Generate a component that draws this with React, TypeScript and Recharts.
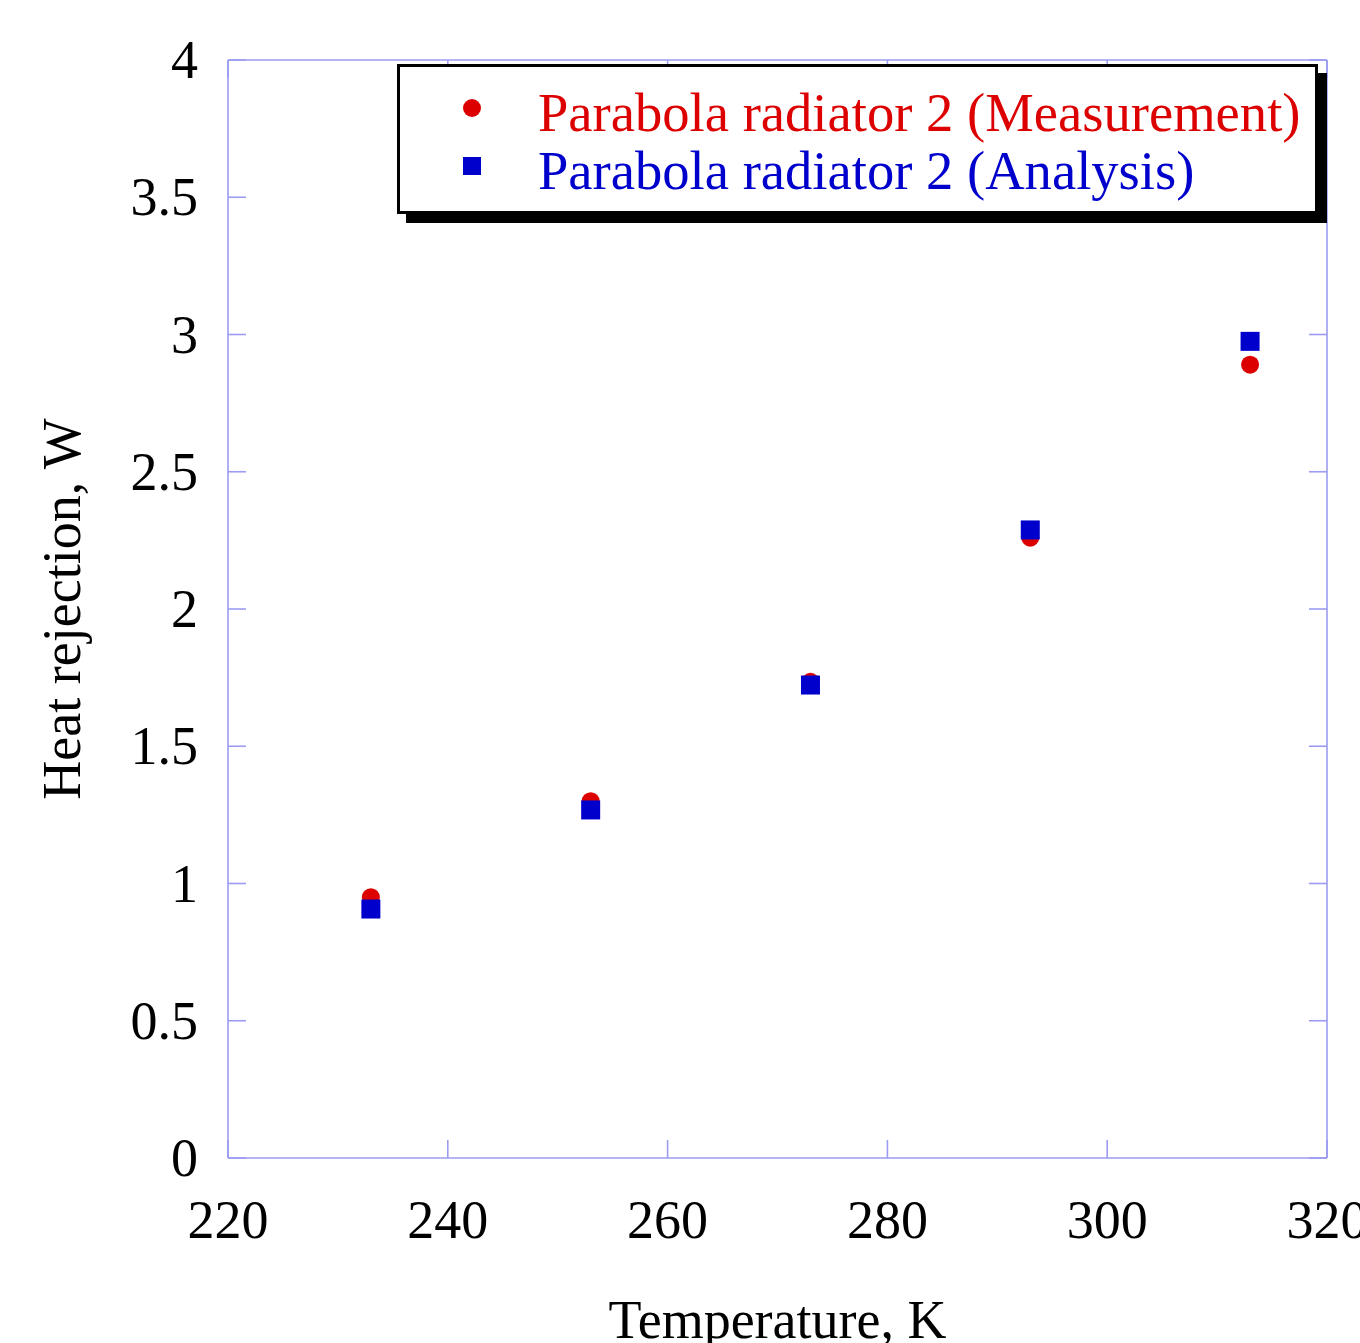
import {
  Legend,
  Scatter,
  ScatterChart,
  XAxis,
  YAxis,
} from "recharts";

const FONT = "'Liberation Serif', 'Times New Roman', serif";
const AXIS_COLOR = "#9c9cf2";
const RED = "#dd0000";
const BLUE = "#0000cc";

// temperatures, K
const temperatures = [233, 253, 273, 293, 313];
// heat rejection, W
const measured = [0.95, 1.3, 1.735, 2.26, 2.89];
const analysed = [0.907, 1.268, 1.723, 2.288, 2.975];

const seriesNames = ["Parabola radiator 2 (Measurement)", "Parabola radiator 2 (Analysis)"];
const xTicks = [220, 240, 260, 280, 300, 320];
const yTicks = [0, 0.5, 1, 1.5, 2, 2.5, 3, 3.5, 4];

const measuredData = temperatures.map((t, i) => ({ t, q: measured[i] }));
const analysedData = temperatures.map((t, i) => ({ t, q: analysed[i] }));

const Dot = (p: any) => <circle cx={p.cx} cy={p.cy} r={9} fill={RED} />;
const Box = (p: any) => (
  <rect x={p.cx - 9.5} y={p.cy - 9.5} width={19} height={19} fill={BLUE} />
);

const XTick = (p: any) => (
  <text x={p.x} y={p.y + 78} textAnchor="middle" fontSize={54} fontFamily={FONT} fill="#000">
    {p.payload.value}
  </text>
);
const YTick = (p: any) => (
  <text x={p.x - 28} y={p.y + 18} textAnchor="end" fontSize={54} fontFamily={FONT} fill="#000">
    {p.payload.value}
  </text>
);
// inward tick marks only, no labels
const NoLabel = () => <g />;

function LegendBox({ payload }: any) {
  const items = seriesNames
    .map((n) => (payload || []).find((it: any) => it.value === n))
    .filter(Boolean);
  return (
    <div
      style={{
        position: "relative",
        boxSizing: "border-box",
        width: 921,
        height: 150,
        background: "#fff",
        border: "3px solid #000",
        boxShadow: "9px 9px 0 #000",
        fontFamily: FONT,
        fontSize: 54.6,
        lineHeight: "54px",
      }}
    >
      {items.map((item: any, i: number) => (
        <div key={item.value} style={{ position: "absolute", left: 0, top: 19 + i * 58, whiteSpace: "nowrap" }}>
          <span
            style={{
              position: "absolute",
              left: 63,
              top: 13,
              width: 18,
              height: 18,
              borderRadius: i === 0 ? 9 : 0,
              background: item.color,
            }}
          />
          <span style={{ position: "absolute", left: 138, top: 0, color: item.color }}>{item.value}</span>
        </div>
      ))}
    </div>
  );
}

export default function App() {
  const line = { stroke: AXIS_COLOR, strokeWidth: 1.6 };
  return (
    <div style={{ position: "absolute", left: 0, top: 0, width: 1360, height: 1343, overflow: "hidden", background: "#fff" }}>
      <ScatterChart width={1360} height={1343} margin={{ top: 60, right: 33, bottom: 85, left: 78 }}>
        <XAxis
          xAxisId={0}
          type="number"
          dataKey="t"
          domain={[220, 320]}
          ticks={xTicks}
          allowDataOverflow
          height={100}
          tickSize={0}
          tickLine={false}
          tick={<XTick />}
          axisLine={line}
          label={{
            value: "Temperature, K",
            position: "insideBottom",
            content: () => (
              <text x={777.5} y={1338} textAnchor="middle" fontSize={54} fontFamily={FONT} fill="#000">
                Temperature, K
              </text>
            ),
          }}
        />
        <XAxis xAxisId="bm" type="number" dataKey="t" orientation="bottom" mirror domain={[220, 320]} ticks={xTicks}
          allowDataOverflow tick={<NoLabel />} tickSize={18} axisLine={false} tickLine={line} />
        <XAxis xAxisId="top" type="number" dataKey="t" orientation="top" mirror domain={[220, 320]} ticks={xTicks}
          allowDataOverflow tick={<NoLabel />} tickSize={18} axisLine={line} tickLine={line} />
        <YAxis
          yAxisId={0}
          type="number"
          dataKey="q"
          domain={[0, 4]}
          ticks={yTicks}
          allowDataOverflow
          width={150}
          tickSize={0}
          tickLine={false}
          tick={<YTick />}
          axisLine={line}
          label={{
            value: "Heat rejection, W",
            position: "insideLeft",
            content: () => (
              <text x={80} y={609} transform="rotate(-90 80 609)" textAnchor="middle" fontSize={54} fontFamily={FONT} fill="#000">
                Heat rejection, W
              </text>
            ),
          }}
        />
        <YAxis yAxisId="lm" type="number" dataKey="q" orientation="left" mirror domain={[0, 4]} ticks={yTicks}
          allowDataOverflow tick={<NoLabel />} tickSize={18} axisLine={false} tickLine={line} />
        <YAxis yAxisId="rm" type="number" dataKey="q" orientation="right" mirror domain={[0, 4]} ticks={yTicks}
          allowDataOverflow tick={<NoLabel />} tickSize={18} axisLine={line} tickLine={line} />
        <Legend
          layout="vertical"
          align="center"
          verticalAlign="middle"
          content={<LegendBox />}
          wrapperStyle={{ left: 397, top: 64, width: 930, height: 160 }}
        />
        <Scatter
          name={seriesNames[0]}
          data={measuredData}
          fill={RED}
          shape={<Dot />}
          isAnimationActive={false}
        />
        <Scatter
          name={seriesNames[1]}
          data={analysedData}
          fill={BLUE}
          shape={<Box />}
          isAnimationActive={false}
        />
      </ScatterChart>
    </div>
  );
}
